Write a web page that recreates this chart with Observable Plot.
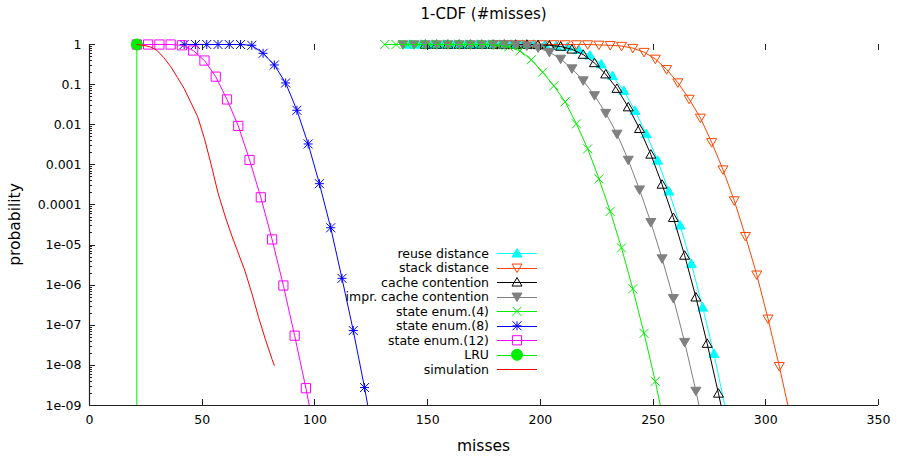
<!DOCTYPE html>
<html><head><meta charset="utf-8">
<script src="https://cdn.jsdelivr.net/npm/d3@7"></script>
<script src="https://cdn.jsdelivr.net/npm/@observablehq/plot@0.6"></script>
<style>
body{margin:0;background:#fff;font-family:"DejaVu Sans",sans-serif;}
#title{position:relative;height:28px;width:897px;}
#title span{position:absolute;left:483.5px;top:0;transform:translateX(-50%);line-height:28px;font-size:15px;white-space:nowrap;color:#000}
</style></head><body>
<div id="title"><span>1-CDF (#misses)</span></div>
<div id="chart"></div>
<script>
// ---- data ----
const xTicks = [0, 50, 100, 150, 200, 250, 300, 350];
const yTicks = [1, 0.1, 0.01, 0.001, 1e-4, 1e-5, 1e-6, 1e-7, 1e-8, 1e-9];
const yTickLabels = ["1", "0.1", "0.01", "0.001", "0.0001", "1e-05", "1e-06", "1e-07", "1e-08", "1e-09"];
const seriesNames = ["reuse distance", "stack distance", "cache contention", "impr. cache contention",
  "state enum.(4)", "state enum.(8)", "state enum.(12)", "LRU", "simulation"];

const reuseX = [142,147,152,157,162,167,172,177,182,187,192,197,202,207,212,217,222,227,232,237,242,247,252,257,262,267,272,277,282];
const reuseP = [1,1,1,1,1,1,1,1,1,1,1,1,0.977,0.933,0.871,0.741,0.537,0.324,0.166,0.0708,0.0224,0.00589,0.00129,2.19e-4,3.1e-5,3.4e-6,2.8e-7,1.95e-8,8.9e-10];

const stackX = [181,186,191,196,201,206,211,216,221,226,231,236,241,246,251,256,261,266,271,276,281,286,291,296,301,306,311];
const stackP = [1,1,1,1,1,1,1,1,1,0.977,0.955,0.912,0.813,0.646,0.437,0.240,0.112,0.0437,0.0148,0.00363,7.6e-4,1.29e-4,1.66e-5,1.82e-6,1.45e-7,9.5e-9,5.0e-10];

const cacheX = [149,154,159,164,169,174,179,184,189,194,199,204,209,214,219,224,229,234,239,244,249,254,259,264,269,274,279,284];
const cacheP = [1,1,1,1,1,1,1,1,1,1,0.977,0.955,0.891,0.759,0.562,0.347,0.182,0.0794,0.0275,0.00794,0.00182,3.24e-4,4.8e-5,5.5e-6,5.0e-7,3.5e-8,2.0e-9,1e-10];

const imprX = [139,144,149,154,159,164,169,174,179,184,189,194,199,204,209,214,219,224,229,234,239,244,249,254,259,264,269,274];
const imprP = [1,1,1,1,1,1,1,1,1,1,0.98,0.93,0.832,0.646,0.437,0.251,0.126,0.0537,0.0195,0.00589,0.00132,2.4e-4,3.7e-5,4.6e-6,4.7e-7,3.8e-8,2.3e-9,1.1e-10];

const enum4X = [131,136,141,146,151,156,161,166,171,176,181,186,191,196,201,206,211,216,221,226,231,236,241,246,251,256];
const enum4P = [1,1,1,1,1,1,1,1,1,1,0.955,0.871,0.692,0.417,0.204,0.0933,0.0372,0.0105,0.00251,4.47e-4,6.9e-5,8.5e-6,8.1e-7,6.3e-8,4.0e-9,1.8e-10];

const enum8X = [42,47,52,57,62,67,72,77,82,87,92,97,102,107,112,117,122,127];
const enum8P = [1,1,1,1,1,1,0.955,0.603,0.309,0.110,0.0229,0.00331,3.39e-4,2.7e-5,1.48e-6,7.4e-8,2.8e-9,8e-11];

const enum12X = [21,26,31,36,41,46,51,56,61,66,71,76,81,86,91,96,101];
const enum12P = [1,1,1,1,0.955,0.708,0.398,0.158,0.0427,0.00933,0.00132,1.55e-4,1.38e-5,9.8e-7,5.5e-8,2.7e-9,1e-10];

const lruX = [21, 21];
const lruP = [1, 1e-12];

const simX = [21,24,27,30,33,36,39,42,45,48,51,54,57,60,63,66,69,72,75,78,81,82];
const simP = [1,0.955,0.871,0.708,0.468,0.282,0.151,0.0794,0.0355,0.0158,0.00447,0.001,2.0e-4,5.6e-5,1.78e-5,6.3e-6,2.24e-6,6.3e-7,1.58e-7,4.5e-8,1.41e-8,1e-8];

// ---- symbols ----
const kOf = s => Math.sqrt(s / Math.PI);
const triUp = {draw(c, s){const k=kOf(s); c.moveTo(0,-k*0.95); c.lineTo(k,k*0.75); c.lineTo(-k,k*0.75); c.closePath();}};
const triDown = {draw(c, s){const k=kOf(s); c.moveTo(0,k*0.95); c.lineTo(k,-k*0.75); c.lineTo(-k,-k*0.75); c.closePath();}};
const crossSym = {draw(c, s){const k=kOf(s); c.moveTo(-k,-k); c.lineTo(k,k); c.moveTo(-k,k); c.lineTo(k,-k);}};
const starSym = {draw(c, s){const k=kOf(s); c.moveTo(-k,-k); c.lineTo(k,k); c.moveTo(-k,k); c.lineTo(k,-k); c.moveTo(-k,0); c.lineTo(k,0); c.moveTo(0,-k); c.lineTo(0,k);}};
const squareSym = {draw(c, s){const k=kOf(s); c.moveTo(-k,-k); c.lineTo(k,-k); c.lineTo(k,k); c.lineTo(-k,k); c.closePath();}};
const circleSym = {draw(c, s){const k=kOf(s); c.moveTo(k,0); c.arc(0,0,k,0,2*Math.PI);}};

const xsList = [reuseX, stackX, cacheX, imprX, enum4X, enum8X, enum12X, lruX, simX];
const psList = [reuseP, stackP, cacheP, imprP, enum4P, enum8P, enum12P, lruP, simP];
const styles = [
  {color:"#00ffff", sym:triUp, fill:true, r:5},
  {color:"#ff4500", sym:triDown, fill:false, r:5},
  {color:"#000000", sym:triUp, fill:false, r:5},
  {color:"#808080", sym:triDown, fill:true, r:5},
  {color:"#00ee00", sym:crossSym, fill:false, r:4.5},
  {color:"#0000ff", sym:starSym, fill:false, r:4.5},
  {color:"#ff00ff", sym:squareSym, fill:false, r:4.6},
  {color:"#00ee00", sym:circleSym, fill:true, r:5.5},
  {color:"#ff0000", sym:null}
];
const series = seriesNames.map((name, i) => ({
  name, ...styles[i],
  data: xsList[i].map((x, j) => ({x, p: psList[i][j]}))
}));

const marks = [
  Plot.axisX({ticks: xTicks, tickSize: 0, tickPadding: 10, label: null}),
  Plot.axisY({ticks: yTicks, tickSize: 0, tickPadding: 8, label: null,
    tickFormat: d => yTickLabels[yTicks.findIndex(t => Math.abs(t - d) / t < 1e-6)]})
];
for (const s of series) {
  marks.push(Plot.line(s.data, {x: "x", y: "p", stroke: s.color, strokeWidth: 1}));
  if (s.sym) {
    marks.push(Plot.dot(s.data.filter(d => d.p >= 1e-9), {x: "x", y: "p", symbol: s.sym, r: s.r,
      stroke: s.color, fill: s.fill ? s.color : "none", strokeWidth: 1}));
  }
}
marks.push(Plot.ruleY([1e-9], {stroke: "#222", strokeWidth: 1.2}));
marks.push(Plot.ruleX([0], {stroke: "#222", strokeWidth: 1.2}));

const chart = Plot.plot({
  width: 897, height: 428,
  marginLeft: 89, marginRight: 19, marginTop: 16, marginBottom: 51,
  x: {domain: [0, 350]},
  y: {type: "log", domain: [1e-9, 1]},
  style: {fontFamily: "DejaVu Sans", fontSize: "12.5px", background: "white", color: "#000"},
  marks
});
document.getElementById("chart").appendChild(chart);

// ---- decorations through the plot's scales ----
const svg = d3.select(chart);
const xs = chart.scale("x"), ys = chart.scale("y");
const x0 = xs.apply(0), x1 = xs.apply(350), yb = ys.apply(1e-9), yt = ys.apply(1);

// clip lines at bottom/left of frame
svg.append("defs").append("clipPath").attr("id", "frameclip")
  .append("rect").attr("x", x0).attr("y", 0).attr("width", x1 - x0 + 20).attr("height", yb);
svg.selectAll('g[aria-label="line"]').attr("clip-path", "url(#frameclip)");

const tg = svg.append("g").attr("stroke", "#222").attr("stroke-width", 1);
for (const t of xTicks) {
  const px = Math.round(xs.apply(t)) + 0.5;
  tg.append("line").attr("x1", px).attr("x2", px).attr("y1", yb).attr("y2", yb - 6);
  tg.append("line").attr("x1", px).attr("x2", px).attr("y1", yt).attr("y2", yt + 6);
}
for (const t of yTicks) {
  const py = Math.round(ys.apply(t)) + 0.5;
  tg.append("line").attr("x1", x0).attr("x2", x0 + 6).attr("y1", py).attr("y2", py);
  if (t > 1e-9) {
    for (let m = 2; m <= 9; m++) {
      const v = t / 10 * m;
      const pm = Math.round(ys.apply(v)) + 0.5;
      tg.append("line").attr("x1", x0).attr("x2", x0 + 3).attr("y1", pm).attr("y2", pm);
    }
  }
}

// axis labels
svg.append("text").attr("transform", `translate(15,${(yt + yb) / 2}) rotate(-90)`)
  .attr("text-anchor", "middle").attr("dy", "0.35em").attr("font-size", "15.5px").attr("fill", "#000").text("probability");
svg.append("text").attr("x", (x0 + x1) / 2).attr("y", yb + 46)
  .attr("text-anchor", "middle").attr("font-size", "15.5px").attr("fill", "#000").text("misses");

// legend
const lg = svg.append("g").attr("font-size", "12.5px");
const legTop = 225.3, legStep = 14.5, legTextX = 489, legL = 497, legR = 537;
series.forEach((s, i) => {
  const y = legTop + i * legStep;
  lg.append("text").attr("x", legTextX).attr("y", y).attr("dy", "0.35em").attr("text-anchor", "end").attr("fill", "#000").text(s.name);
  lg.append("line").attr("x1", legL).attr("x2", legR).attr("y1", Math.round(y) + 0.5).attr("y2", Math.round(y) + 0.5)
    .attr("stroke", s.color).attr("stroke-width", 1);
  if (s.sym) {
    const p = d3.path(); s.sym.draw(p, Math.PI * s.r * s.r);
    lg.append("path").attr("d", p.toString()).attr("transform", `translate(${(legL + legR) / 2},${y})`)
      .attr("stroke", s.color).attr("fill", s.fill ? s.color : "none").attr("stroke-width", 1);
  }
});
</script>
</body></html>
